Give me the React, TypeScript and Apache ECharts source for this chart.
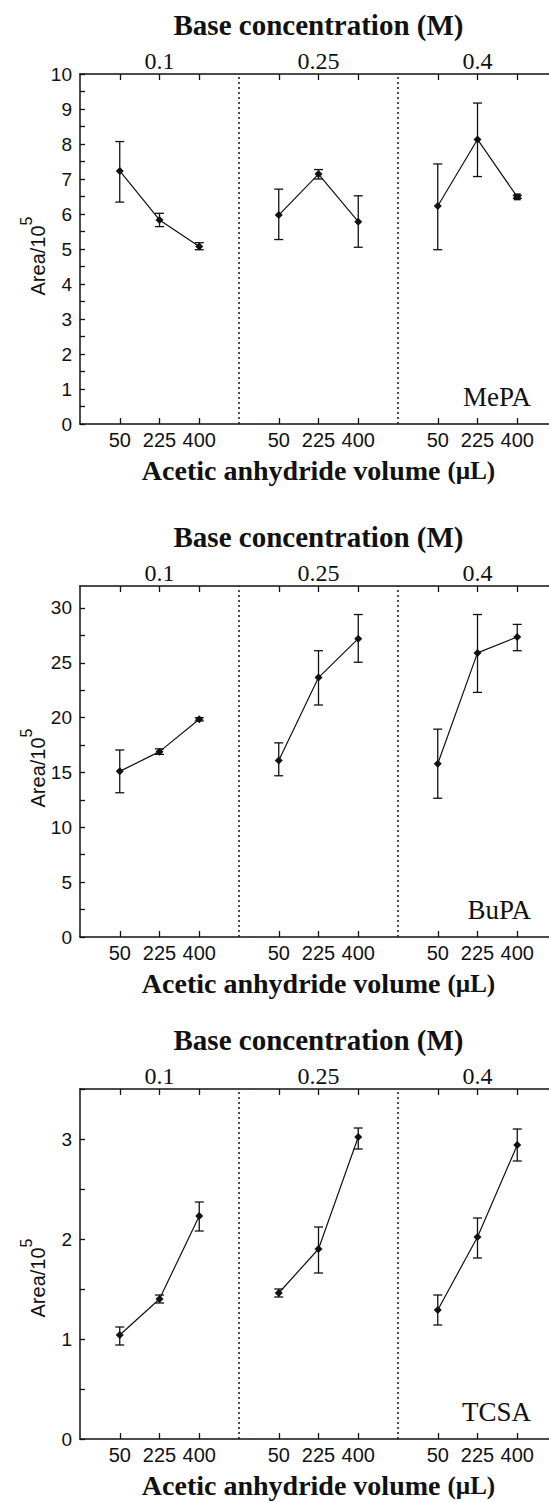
import React, { useEffect, useRef } from 'react';
import * as echarts from 'echarts';

// ---- data ----
const volumes = ['50', '225', '400'];
const concentrations = ['0.1', '0.25', '0.4'];
const analytes = ['MePA', 'BuPA', 'TCSA'];
const yMax = [10, 32, 3.5];
const yLabelStep = [1, 5, 1];
const yTickStep = [0.5, 2.5, 0.5];

// MePA (Area/10^5): order = [0.1: 50,225,400, 0.25: 50,225,400, 0.4: 50,225,400]
const mepaMean = [7.23, 5.83, 5.07, 5.97, 7.14, 5.78, 6.23, 8.13, 6.49];
const mepaLow = [6.34, 5.64, 4.98, 5.27, 7.0, 5.05, 4.98, 7.07, 6.45];
const mepaHigh = [8.07, 6.02, 5.18, 6.71, 7.27, 6.52, 7.43, 9.17, 6.53];
// BuPA
const bupaMean = [15.1, 16.9, 19.85, 16.1, 23.65, 27.2, 15.8, 25.9, 27.35];
const bupaLow = [13.15, 16.65, 19.7, 14.7, 21.15, 25.05, 12.65, 22.3, 26.1];
const bupaHigh = [17.05, 17.15, 20.0, 17.7, 26.1, 29.4, 18.95, 29.4, 28.5];
// TCSA
const tcsaMean = [1.04, 1.4, 2.23, 1.46, 1.9, 3.02, 1.29, 2.02, 2.94];
const tcsaLow = [0.94, 1.36, 2.08, 1.42, 1.66, 2.9, 1.14, 1.81, 2.78];
const tcsaHigh = [1.12, 1.44, 2.37, 1.5, 2.12, 3.11, 1.44, 2.21, 3.1];

const means = [mepaMean, bupaMean, tcsaMean];
const lows = [mepaLow, bupaLow, tcsaLow];
const highs = [mepaHigh, bupaHigh, tcsaHigh];
const squareMarkers = [{ panel: 0, index: 8 }];

// ---- layout ----
const W = 549;
const H = 1502;
const GRID_LEFT = 80;
const GRID_WIDTH = 477;
const panels = [
  { top: 74, height: 350, nameY: 256 },
  { top: 586, height: 351, nameY: 768 },
  { top: 1089, height: 350, nameY: 1278 },
];
const SERIF = 'Liberation Serif, Times New Roman, serif';
const SANS = 'Liberation Sans, Arial, sans-serif';
const INK = '#111';

const xPos = (idx: number) => Math.floor(idx / 3) * 4 + (idx % 3) + 1;
const tickX = [0, 1, 2, 3, 4, 5, 6, 7, 8].map(xPos);
const groupCenters = concentrations.map((_, g) => g * 4 + 2);

function range(step: number, max: number) {
  const out: number[] = [];
  for (let v = 0; v <= max + 1e-9; v += step) out.push(Math.round(v * 1000) / 1000);
  return out;
}

function buildOption() {
  const grid: any[] = [];
  const xAxis: any[] = [];
  const yAxis: any[] = [];
  const series: any[] = [];
  const graphic: any[] = [];

  panels.forEach((pl, p) => {
    grid.push({ left: GRID_LEFT, top: pl.top, width: GRID_WIDTH, height: pl.height, outerBoundsMode: 'none', containLabel: false });
    const axisLine = { show: true, onZero: false, lineStyle: { color: INK, width: 1.5 } };
    xAxis.push({
      type: 'value', gridIndex: p, position: 'bottom', min: 0, max: 12,
      axisLine,
      axisTick: { show: true, inside: true, length: 6, customValues: tickX, lineStyle: { color: INK, width: 1.3 } },
      axisLabel: {
        customValues: tickX, margin: 6, fontFamily: SANS, fontSize: 20, color: INK,
        formatter: (v: number) => volumes[Math.round(v - 1) % 4] ?? '',
      },
      splitLine: { show: false },
      name: 'Acetic anhydride volume {u|(µL)}', nameLocation: 'middle', nameGap: 32, nameMoveOverlap: false,
      nameTextStyle: {
        fontFamily: SERIF, fontSize: 28, fontWeight: 'bold', color: INK,
        rich: { u: { fontFamily: SERIF, fontSize: 25, fontWeight: 'bold', color: INK } },
      },
    });
    xAxis.push({
      type: 'value', gridIndex: p, position: 'top', min: 0, max: 12,
      axisLine,
      axisTick: { show: true, inside: true, length: 6, customValues: tickX, lineStyle: { color: INK, width: 1.3 } },
      axisLabel: {
        customValues: groupCenters, margin: 1, fontFamily: SERIF, fontSize: 24, color: INK,
        formatter: (v: number) => concentrations[Math.round((v - 2) / 4)] ?? '',
      },
      splitLine: { show: false },
      name: 'Base concentration (M)', nameLocation: 'middle', nameGap: 35, nameMoveOverlap: false,
      nameTextStyle: { fontFamily: SERIF, fontSize: 29, fontWeight: 'bold', color: INK },
    });
    yAxis.push({
      type: 'value', gridIndex: p, min: 0, max: yMax[p],
      axisLine,
      axisTick: { show: true, inside: true, length: 5, customValues: range(yTickStep[p], yMax[p]), lineStyle: { color: INK, width: 1.3 } },
      axisLabel: { customValues: range(yLabelStep[p], yMax[p]), margin: 8, fontFamily: SANS, fontSize: 19, color: INK },
      splitLine: { show: false },
    });

    // lines per concentration group
    concentrations.forEach((_, g) => {
      const data = volumes.map((__, i) => {
        const idx = g * 3 + i;
        const sq = squareMarkers.some((s) => s.panel === p && s.index === idx);
        return sq
          ? { value: [xPos(idx), means[p][idx]], symbol: 'rect', symbolSize: 7 }
          : { value: [xPos(idx), means[p][idx]] };
      });
      const s: any = {
        type: 'line', xAxisIndex: p * 2, yAxisIndex: p, data,
        symbol: 'diamond', symbolSize: 8,
        itemStyle: { color: INK }, lineStyle: { color: INK, width: 1.2 },
        z: 3,
      };
      if (g === 0) {
        s.markLine = {
          silent: true, symbol: ['none', 'none'], label: { show: false },
          lineStyle: { color: '#222', width: 1.6, type: [2, 3] },
          data: [{ xAxis: 4 }, { xAxis: 8 }],
        };
      }
      series.push(s);
    });

    // error bars
    series.push({
      type: 'custom', xAxisIndex: p * 2, yAxisIndex: p,
      data: means[p].map((_, idx) => [xPos(idx), lows[p][idx], highs[p][idx]]),
      encode: { x: 0, y: [1, 2] },
      z: 2,
      renderItem: (_params: any, api: any) => {
        const x = api.value(0);
        const a = api.coord([x, api.value(1)]);
        const b = api.coord([x, api.value(2)]);
        const w = 4.5;
        const style = { stroke: INK, lineWidth: 1.3 };
        return {
          type: 'group',
          children: [
            { type: 'line', shape: { x1: a[0], y1: a[1], x2: b[0], y2: b[1] }, style },
            { type: 'line', shape: { x1: a[0] - w, y1: a[1], x2: a[0] + w, y2: a[1] }, style },
            { type: 'line', shape: { x1: b[0] - w, y1: b[1], x2: b[0] + w, y2: b[1] }, style },
          ],
        };
      },
    });

    graphic.push({
      type: 'text', x: 33, y: pl.nameY, rotation: Math.PI / 2,
      style: {
        text: '{a|Area/10}{s|5}',
        align: 'center', verticalAlign: 'middle', fill: INK,
        rich: {
          a: { fontFamily: SANS, fontSize: 20, fill: INK, lineHeight: 29, verticalAlign: 'bottom' },
          s: { fontFamily: SANS, fontSize: 16, fill: INK, lineHeight: 17, verticalAlign: 'top' },
        },
      },
    });
    graphic.push({
      type: 'text', x: 531, y: pl.top + pl.height - 27,
      style: { text: analytes[p], fontFamily: SERIF, fontSize: 27, fill: INK, align: 'right', verticalAlign: 'middle' },
    });
  });

  return { animation: false, backgroundColor: '#fff', grid, xAxis, yAxis, series, graphic };
}

export default function App() {
  const ref = useRef<HTMLDivElement>(null);
  useEffect(() => {
    if (!ref.current) return;
    const chart = echarts.init(ref.current, undefined, { renderer: 'svg', width: W, height: H });
    chart.setOption(buildOption() as any);
    return () => chart.dispose();
  }, []);
  return <div ref={ref} style={{ position: 'absolute', left: 0, top: 0, width: W, height: H, background: '#fff' }} />;
}
